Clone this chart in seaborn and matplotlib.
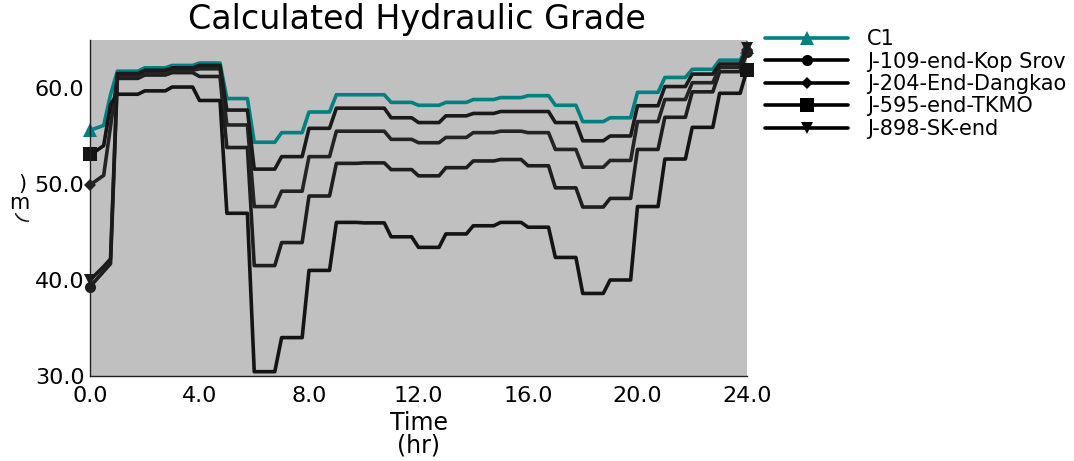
import numpy as np
import pandas as pd
import matplotlib
matplotlib.use("Agg")
import matplotlib.pyplot as plt
from matplotlib.lines import Line2D
import seaborn as sns

# ---- data -------------------------------------------------------------
series_names = ["C1", "J-109-end-Kop Srov", "J-204-End-Dangkao",
                "J-595-end-TKMO", "J-898-SK-end"]

# report times inside the first hour (hr), hourly pattern hours afterwards
first_hour_times = [0.0, 0.25, 0.5, 0.75]
hours = list(range(1, 25))
report_step = 0.25

# hydraulic grade (m) during the first hour
c1_first = [55.6, 55.85, 56.1, 59.3]
j109_first = [39.3, 40.1, 40.9, 41.7]
j204_first = [49.9, 50.4, 50.9, 56.0]
j595_first = [53.1, 53.5, 54.0, 58.3]
j898_first = [40.0, 40.7, 41.4, 42.2]

# hydraulic grade (m) for hours 1..24
c1_hourly = [61.75, 62.1, 62.35, 62.6, 58.9, 54.35, 55.35, 57.5, 59.3, 59.3,
             58.5, 58.2, 58.5, 58.8, 59.0, 59.2, 58.2, 56.5, 56.9, 59.55,
             61.1, 61.95, 62.9, 64.3]
j109_hourly = [61.0, 61.35, 61.6, 61.2, 53.8, 41.5, 43.9, 48.75, 52.15, 52.2,
               51.5, 50.85, 51.7, 52.4, 52.55, 51.9, 49.6, 47.6, 48.5, 53.6,
               56.95, 59.6, 61.7, 63.7]
j204_hourly = [61.2, 61.55, 61.85, 62.0, 56.15, 47.65, 49.25, 52.85, 55.5, 55.5,
               54.65, 54.3, 54.85, 55.35, 55.5, 55.35, 53.6, 51.75, 52.45, 56.5,
               58.8, 60.55, 62.15, 64.0]
j595_hourly = [59.35, 59.7, 60.1, 58.7, 46.95, 30.45, 34.0, 41.0, 46.0, 45.95,
               44.5, 43.4, 44.8, 45.65, 46.0, 45.5, 42.35, 38.6, 40.0, 47.65,
               52.6, 55.9, 59.45, 61.9]
j898_hourly = [61.5, 61.85, 62.1, 62.35, 57.7, 51.55, 52.85, 55.8, 57.9, 57.9,
               56.9, 56.4, 57.1, 57.35, 57.55, 57.55, 56.4, 54.5, 55.0, 58.15,
               60.15, 61.45, 62.5, 64.2]

first_values = [c1_first, j109_first, j204_first, j595_first, j898_first]
hourly_values = [c1_hourly, j109_hourly, j204_hourly, j595_hourly, j898_hourly]

x_ticks = [0, 4, 8, 12, 16, 20, 24]
y_ticks = [30, 40, 50, 60]


def report_series(first, hourly):
    """Quarter-hour report: each hourly value is held until the next hour."""
    t = list(first_hour_times)
    v = list(first)
    for h, val in zip(hours[:-1], hourly[:-1]):
        for q in range(4):
            t.append(h + q * report_step)
            v.append(val)
    t.append(hours[-1])
    v.append(hourly[-1])
    return t, v


frames = []
for name, first, hourly in zip(series_names, first_values, hourly_values):
    t, v = report_series(first, hourly)
    frames.append(pd.DataFrame({"Time": t, "HGL": v, "Element": name}))
df = pd.concat(frames, ignore_index=True)

# ---- styling ----------------------------------------------------------
sns.set_theme(style="white")
plt.rcParams["font.family"] = ["DejaVu Sans"]
plt.rcParams["text.color"] = "black"
plt.rcParams["axes.labelcolor"] = "black"

colors = ["#008080", "#1e1e1e", "#242424", "#141414", "#1a1a1a"]
markers = ["^", "o", "D", "s", "v"]
msizes = [10, 8, 6.5, 9.5, 9]

W, H = 1074, 461
fig = plt.figure(figsize=(W / 100, H / 100), dpi=100)
ax = fig.add_axes([90 / W, 1 - 376 / H, (747 - 90) / W, (376 - 40) / H])
ax.set_facecolor("#c0c0c0")

for name, c, m, ms in zip(series_names, colors, markers, msizes):
    sub = df[df["Element"] == name]
    sns.lineplot(data=sub, x="Time", y="HGL", ax=ax, color=c, linewidth=2.6,
                 marker=m, markersize=ms, markevery=[0, -1], markeredgewidth=0,
                 estimator=None, sort=False, errorbar=None, legend=False,
                 clip_on=False)

ax.set_xlim(0, 24)
ax.set_ylim(30, 65)
ax.set_xticks(x_ticks)
ax.set_xticklabels([f"{v:.1f}" for v in x_ticks])
ax.set_yticks(y_ticks)
ax.set_yticklabels([f"{v:.1f}" for v in y_ticks])
ax.tick_params(axis="both", direction="inout", length=7, width=1,
               colors="black", labelsize=16)
ax.tick_params(axis="y", pad=0.5)
ax.tick_params(axis="x", pad=4)
for side in ("top", "right"):
    ax.spines[side].set_visible(False)
for side in ("left", "bottom"):
    ax.spines[side].set_color("#202020")
    ax.spines[side].set_linewidth(1)

ax.set_ylabel("")
ax.set_xlabel("Time\n(hr)", fontsize=17, linespacing=0.95, labelpad=3)

# vertical unit label
fig.text(22 / W, 1 - 184 / H, ")", fontsize=15, ha="center", va="center")
fig.text(19 / W, 1 - 203 / H, "m", fontsize=15, ha="center", va="center")
fig.text(22 / W, 1 - 217 / H, "(", fontsize=13, ha="center", va="center",
         rotation=60)

fig.text(417 / W, 1 - 20 / H, "Calculated Hydraulic Grade", fontsize=24,
         ha="center", va="center")

handles = [Line2D([], [], color=c if i == 0 else "#000000", lw=2.6, marker=m,
                  markersize=ms, markeredgewidth=0)
           for i, (c, m, ms) in enumerate(zip(colors, markers, msizes))]
fig.legend(handles, series_names, loc="upper left",
           bbox_to_anchor=(765 / W, 1 - 29 / H), frameon=False, fontsize=15,
           handlelength=4.0, handletextpad=0.9, labelspacing=0.12,
           borderpad=0, borderaxespad=0)

fig.savefig("out.png", dpi=100)
